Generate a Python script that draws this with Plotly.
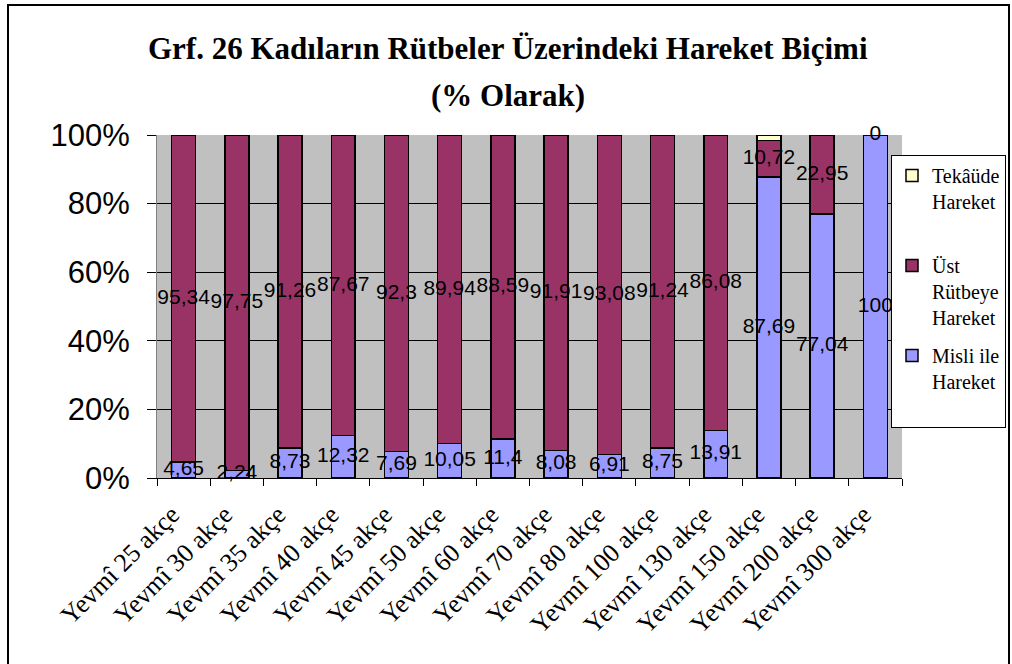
import plotly.graph_objects as go

categories = ["Yevmî 25 akçe", "Yevmî 30 akçe", "Yevmî 35 akçe", "Yevmî 40 akçe",
              "Yevmî 45 akçe", "Yevmî 50 akçe", "Yevmî 60 akçe", "Yevmî 70 akçe",
              "Yevmî 80 akçe", "Yevmî 100 akçe", "Yevmî 130 akçe", "Yevmî 150 akçe",
              "Yevmî 200 akçe", "Yevmî 300 akçe"]
misli = [4.65, 2.24, 8.73, 12.32, 7.69, 10.05, 11.4, 8.08, 6.91, 8.75, 13.91, 87.69, 77.04, 100]
ust = [95.34, 97.75, 91.26, 87.67, 92.3, 89.94, 88.59, 91.91, 93.08, 91.24, 86.08, 10.72, 22.95, 0]
tekaude = [0.01, 0.01, 0.01, 0.01, 0.01, 0.01, 0.01, 0.01, 0.01, 0.01, 0.01, 1.59, 0.01, 0]
y_ticks = [0, 20, 40, 60, 80, 100]
y_tick_labels = ["0%", "20%", "40%", "60%", "80%", "100%"]

def fmt(v):
    return ("%g" % v).replace(".", ",")

SERIF = "Times New Roman, Liberation Serif, serif"
SANS = "Arial, Liberation Sans, sans-serif"

W, H = 1012, 664
L, R, T, B = 157, 902, 135, 478
pw, ph = R - L, B - T
def px(x):
    return (x - L) / pw
def py(y):
    return (B - y) / ph

fig = go.Figure()
line = dict(color="black", width=1.5)
fig.add_trace(go.Bar(name="Misli ile<br>Hareket<br> ", x=categories, y=misli, legendrank=3,
                     marker=dict(color="#9999FF", line=line), legendgroup="m"))
fig.add_trace(go.Bar(name="Üst<br>Rütbeye<br>Hareket", x=categories, y=ust, legendrank=2,
                     marker=dict(color="#993366", line=line), legendgroup="u"))
fig.add_trace(go.Bar(name="Tekâüde<br>Hareket<br> ", x=categories, y=tekaude, legendrank=1,
                     marker=dict(color="#FFFFCC", line=line), legendgroup="t"))

# data labels, centred in each segment
lab_x = categories + categories
lab_y = [m / 2 for m in misli] + [m + u / 2 for m, u in zip(misli, ust)]
lab_t = [fmt(v) for v in misli] + [fmt(v) for v in ust]
fig.add_trace(go.Scatter(x=lab_x, y=lab_y, text=lab_t, mode="text",
                         textfont=dict(family=SANS, size=21, color="black"),
                         showlegend=False, cliponaxis=False, hoverinfo="skip"))

fig.update_layout(
    width=W, height=H,
    margin=dict(l=L, r=W - R, t=T, b=H - B, pad=0, autoexpand=False),
    barmode="stack", bargap=0.55,
    plot_bgcolor="#C0C0C0", paper_bgcolor="white",
    font=dict(family=SERIF, color="black"),
    showlegend=True,
    legend=dict(xref="container", yref="container", x=891 / W, y=1 - 155 / H,
                xanchor="left", yanchor="top", valign="top",
                traceorder="grouped", tracegroupgap=9, itemwidth=30,
                font=dict(family=SERIF, size=20, color="black"),
                bordercolor="black", borderwidth=1, bgcolor="white"),
    xaxis=dict(type="category", range=[-0.5, len(categories) - 0.5],
               tickangle=-45, ticks="outside", ticklen=7, tickcolor="black",
               tickson="boundaries", showline=True, linecolor="black", linewidth=1,
               tickfont=dict(family=SERIF, size=26, color="black"),
               ticklabelstandoff=10, ticklabelshift=-12, showgrid=False, automargin=False),
    yaxis=dict(range=[0, 100], tickvals=y_ticks, ticktext=y_tick_labels,
               ticks="outside", ticklen=9, tickcolor="black",
               showline=True, linecolor="#808080", linewidth=1,
               showgrid=True, gridcolor="black", gridwidth=1, zeroline=False,
               tickfont=dict(family=SANS, size=31, color="black"),
               ticklabelstandoff=11, automargin=False),
    annotations=[
        dict(text="<b>Grf. 26 Kadıların Rütbeler Üzerindeki Hareket Biçimi</b>",
             x=px(508), y=py(48), xref="paper", yref="paper", showarrow=False,
             xanchor="center", yanchor="middle",
             font=dict(family=SERIF, size=31, color="black")),
        dict(text="<b>(% Olarak)</b>",
             x=px(508), y=py(95), xref="paper", yref="paper", showarrow=False,
             xanchor="center", yanchor="middle",
             font=dict(family=SERIF, size=31, color="black")),
    ],
    shapes=[
        dict(type="rect", xref="paper", yref="paper",
             x0=px(8), x1=px(1009), y0=py(700), y1=py(5),
             line=dict(color="black", width=2), fillcolor="rgba(0,0,0,0)", layer="below"),
    ],
)

fig.write_html("out.html", config={"displayModeBar": False},
               post_script="document.body.style.margin='0';")
